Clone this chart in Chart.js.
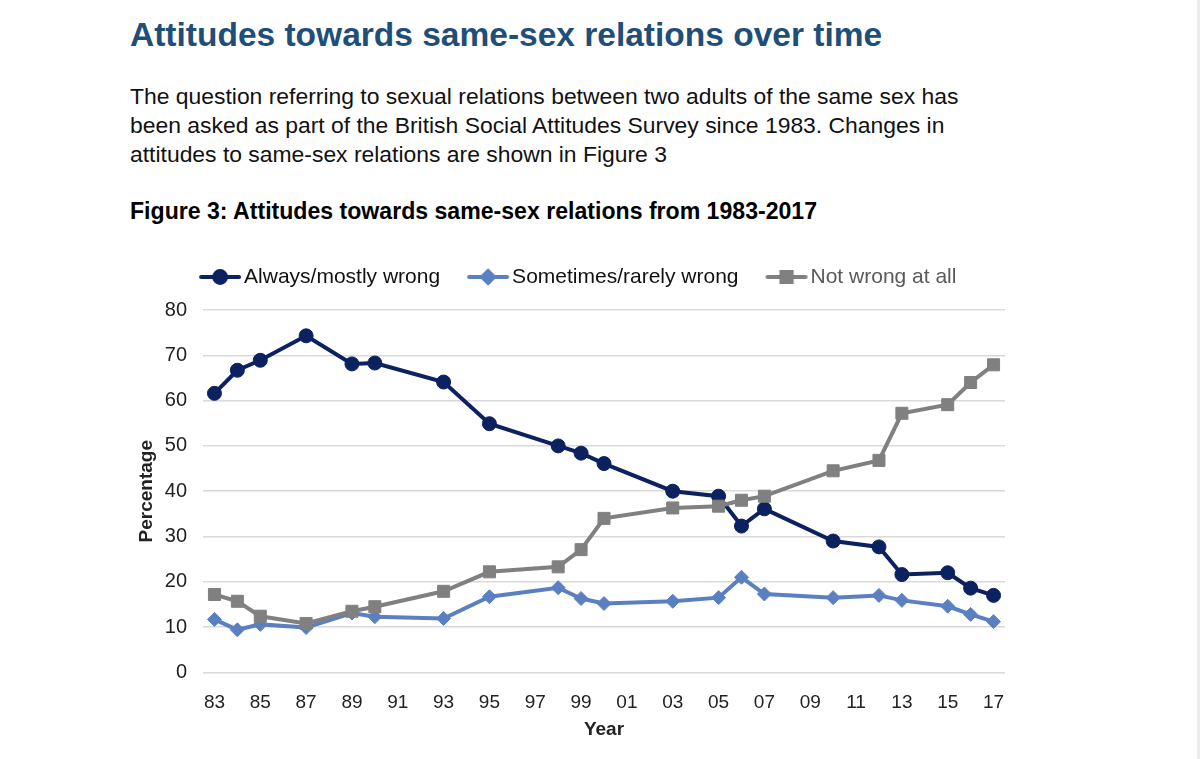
<!DOCTYPE html>
<html>
<head>
<meta charset="utf-8">
<script src="https://cdn.jsdelivr.net/npm/chart.js@4.4.0/dist/chart.umd.min.js"></script>
<style>
  html, body { margin: 0; padding: 0; background: #ffffff; }
  body { width: 1200px; height: 759px; position: relative; overflow: hidden; font-family: 'Liberation Sans', Arial, sans-serif; }
  #title { position: absolute; left: 130px; top: 16px; font-size: 33.5px; font-weight: bold; color: #1f4e79; white-space: nowrap; }
  #para { position: absolute; left: 130px; top: 82px; font-size: 22.9px; line-height: 29px; color: #111; white-space: nowrap; }
  #fig { position: absolute; left: 130px; top: 198px; font-size: 23.1px; font-weight: bold; color: #000; white-space: nowrap; }
  #wrap { position: absolute; left: 130px; top: 232px; width: 896px; height: 516px; }
  #edge { position: absolute; right: 0; top: 0; width: 3px; height: 759px; background: #ebebeb; }
</style>
</head>
<body>
<div id="title">Attitudes towards same-sex relations over time</div>
<div id="para">The question referring to sexual relations between two adults of the same sex has<br>been asked as part of the British Social Attitudes Survey since 1983. Changes in<br>attitudes to same-sex relations are shown in Figure 3</div>
<div id="fig">Figure 3: Attitudes towards same-sex relations from 1983-2017</div>
<div id="wrap"><canvas id="c"></canvas></div>
<div id="edge"></div>
<script>
const years = [1983, 1984, 1985, 1987, 1989, 1990, 1993, 1995, 1998, 1999, 2000, 2003, 2005, 2006, 2007, 2010, 2012, 2013, 2015, 2016, 2017];
const alwaysWrong = [61.6, 66.7, 68.9, 74.3, 68.1, 68.3, 64.1, 54.9, 50.0, 48.4, 46.1, 40.0, 38.9, 32.3, 36.1, 29.0, 27.7, 21.6, 22.0, 18.6, 17.0];
const sometimesWrong = [11.7, 9.4, 10.6, 9.9, 13.1, 12.3, 11.9, 16.7, 18.7, 16.3, 15.2, 15.7, 16.5, 21.0, 17.3, 16.5, 17.0, 15.9, 14.6, 12.8, 11.2];
const notWrong = [17.2, 15.7, 12.4, 10.8, 13.5, 14.5, 17.9, 22.2, 23.3, 27.1, 34.0, 36.3, 36.7, 38.0, 38.9, 44.5, 46.8, 57.2, 59.1, 64.0, 67.9];
const seriesNames = ['Always/mostly wrong', 'Sometimes/rarely wrong', 'Not wrong at all'];
const xTicks = [1983, 1985, 1987, 1989, 1991, 1993, 1995, 1997, 1999, 2001, 2003, 2005, 2007, 2009, 2011, 2013, 2015, 2017];

const colors = ['#0c2160', '#5b80c1', '#808080'];
const styles = ['circle', 'rectRot', 'rect'];
const radii = [7, 7, 8.5];
const legendColors = ['#111111', '#111111', '#595959'];

function pts(vals) { return years.map((y, i) => ({ x: y, y: vals[i] })); }

function legendIcon(color, style, r) {
  const c = document.createElement('canvas');
  c.width = 44; c.height = 20;
  const g = c.getContext('2d');
  g.strokeStyle = color; g.fillStyle = color; g.lineWidth = 4; g.lineCap = 'round';
  g.beginPath(); g.moveTo(3, 10); g.lineTo(41, 10); g.stroke();
  Chart.helpers.drawPoint(g, { pointStyle: style, radius: r, rotation: 0, borderWidth: 1 }, 22, 10);
  g.fill();
  return c;
}

const ds = [alwaysWrong, sometimesWrong, notWrong].map((v, i) => ({
  label: seriesNames[i],
  data: pts(v),
  borderColor: colors[i],
  backgroundColor: colors[i],
  borderWidth: 4,
  pointStyle: styles[i],
  pointRadius: radii[i],
  pointBorderWidth: 1,
  pointBackgroundColor: colors[i],
  pointBorderColor: colors[i],
  tension: 0,
  order: 3 - i
}));

Chart.defaults.font.family = "'Liberation Sans', Arial, sans-serif";

const legendTweak = {
  id: 'legendTweak',
  beforeInit(chart) {
    const lg = chart.legend;
    const fit = lg.fit;
    lg.fit = function () { fit.call(this); this.height = 78; };
  },
  afterUpdate(chart) {
    chart.legend.left += 14;
    chart.legend.right += 14;
  }
};

new Chart(document.getElementById('c'), {
  type: 'line',
  data: { datasets: ds },
  plugins: [legendTweak],
  options: {
    responsive: true,
    maintainAspectRatio: false,
    animation: false,
    layout: { padding: { left: 0, right: 21, top: 0, bottom: 0 } },
    plugins: {
      tooltip: { enabled: false },
      legend: {
        position: 'top',
        labels: {
          usePointStyle: true,
          pointStyleWidth: 27,
          padding: 34.5,
          font: { size: 21 },
          generateLabels: (chart) => seriesNames.map((n, i) => ({
            text: n,
            datasetIndex: i,
            pointStyle: legendIcon(colors[i], styles[i], radii[i] * 0.85),
            fillStyle: colors[i],
            strokeStyle: colors[i],
            lineWidth: 0,
            fontColor: legendColors[i],
            hidden: false
          }))
        }
      }
    },
    scales: {
      x: {
        type: 'linear',
        min: 1982.5,
        max: 2017.5,
        grid: { display: false },
        border: { display: false },
        afterBuildTicks: (s) => { s.ticks = xTicks.map(v => ({ value: v })); },
        ticks: {
          color: '#222',
          font: { size: 19 },
          padding: 11,
          maxRotation: 0,
          autoSkip: false,
          callback: (v) => String(v % 100).padStart(2, '0')
        },
        title: { display: true, text: 'Year', color: '#222', font: { size: 19, weight: 'bold' }, padding: { top: -7, bottom: 7 } }
      },
      y: {
        min: 0,
        max: 80,
        afterFit: (s) => { s.width = 73; },
        ticks: { stepSize: 10, color: '#222', font: { size: 20 }, padding: 16 },
        grid: { color: '#d9d9d9', lineWidth: 1.5, drawTicks: false },
        border: { display: false },
        title: { display: true, text: 'Percentage', color: '#222', font: { size: 19, weight: 'bold' }, padding: { bottom: 0, top: 5 } }
      }
    }
  }
});
</script>
</body>
</html>
